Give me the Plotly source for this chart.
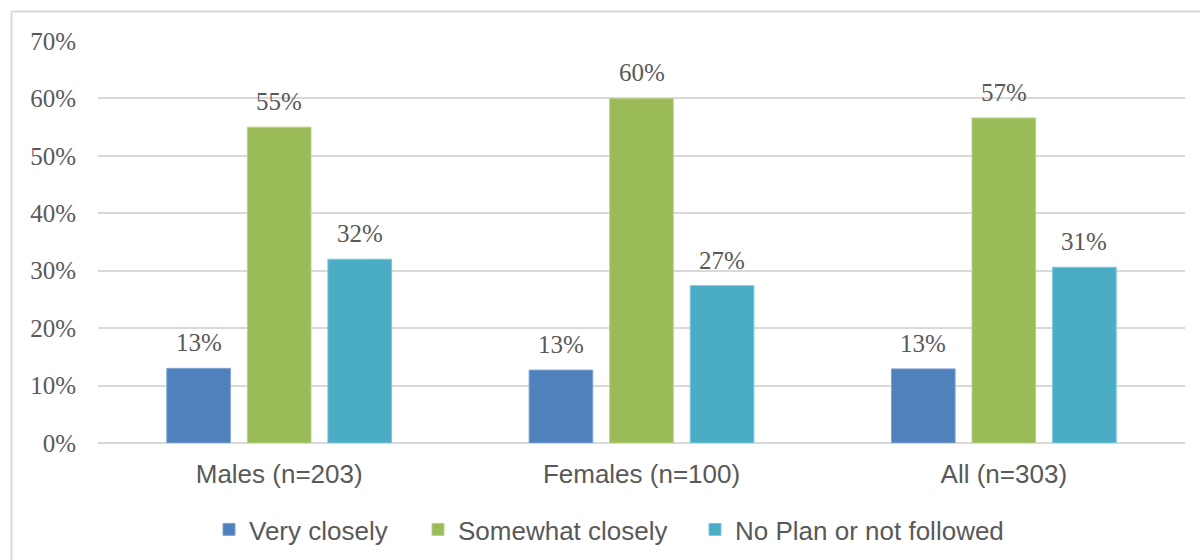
import plotly.graph_objects as go

# Survey groups and the share in each plan-following category
groups = ["Males (n=203)", "Females (n=100)", "All (n=303)"]
series_names = ["Very closely", "Somewhat closely", "No Plan or not followed"]
very_closely = [0.130, 0.127, 0.129]
somewhat_closely = [0.550, 0.600, 0.566]
no_plan = [0.320, 0.274, 0.306]
series_values = [very_closely, somewhat_closely, no_plan]
series_colors = ["#4F81BD", "#9BBB59", "#4BACC6"]
edge_colors = ["#7FA3D3", "#B9D28A", "#7CC8DC"]

y_ticks = [0, 0.1, 0.2, 0.3, 0.4, 0.5, 0.6, 0.7]

text_grey = "#595959"
serif = "Liberation Serif, Times New Roman, serif"
sans = "Liberation Sans, Arial, sans-serif"

# plot-area geometry (pixels) used to place the frame and the legends
W, H = 1200, 560
ML, MR, MT, MB = 98, 15, 41, 117
PW, PH = W - ML - MR, H - MT - MB
slot_px = PW / len(groups) * (1 - 0.333) / len(series_names)


def px_to_paper_x(px):
    return (px - ML) / PW


def px_to_paper_y(py):
    return (H - MB - py) / PH


fig = go.Figure()
legend_ids = ["legend", "legend2", "legend3"]
for name, vals, col, edge, lg in zip(series_names, series_values,
                                     series_colors, edge_colors, legend_ids):
    fig.add_trace(go.Bar(
        x=groups, y=vals, name=name, legend=lg,
        marker=dict(color=col, line=dict(color=edge, width=1)),
    ))

# value labels above each bar
annotations = []
for i, vals in enumerate(series_values):
    for g, v in zip(groups, vals):
        annotations.append(dict(
            x=g, y=v, xref="x", yref="y", text=f"{v:.0%}",
            showarrow=False, xanchor="center", yanchor="bottom",
            xshift=(i - 1) * slot_px, yshift=10,
            font=dict(family=serif, size=25, color=text_grey),
        ))

legend_style = dict(orientation="h", xanchor="left", yanchor="middle",
                    y=px_to_paper_y(529.5), itemwidth=30,
                    font=dict(family=sans, size=26, color=text_grey),
                    bgcolor="rgba(0,0,0,0)")
legend_starts = [209, 418, 695]

fig.update_layout(
    width=W, height=H,
    margin=dict(l=ML, r=MR, t=MT, b=MB, autoexpand=False),
    paper_bgcolor="white", plot_bgcolor="white",
    barmode="group", bargap=0.333, bargroupgap=0.21,
    showlegend=True,
    legend=dict(legend_style, x=px_to_paper_x(legend_starts[0])),
    legend2=dict(legend_style, x=px_to_paper_x(legend_starts[1])),
    legend3=dict(legend_style, x=px_to_paper_x(legend_starts[2])),
    xaxis=dict(showgrid=False, showline=False, ticks="",
               tickfont=dict(family=sans, size=26, color=text_grey),
               ticklabelstandoff=13),
    yaxis=dict(range=[0, 0.7], tickvals=y_ticks, tickformat=".0%",
               showgrid=True, gridcolor="#D9D9D9", gridwidth=2,
               zeroline=True, zerolinecolor="#D9D9D9", zerolinewidth=2,
               showline=False, ticks="",
               tickfont=dict(family=serif, size=25, color=text_grey),
               ticklabelstandoff=21),
    annotations=annotations,
    shapes=[
        # chart frame: left and top edges
        dict(type="line", xref="paper", yref="paper",
             x0=px_to_paper_x(11.5), x1=px_to_paper_x(11.5),
             y0=px_to_paper_y(11.5), y1=px_to_paper_y(570),
             line=dict(color="#D9D9D9", width=2)),
        dict(type="line", xref="paper", yref="paper",
             x0=px_to_paper_x(11.5), x1=px_to_paper_x(1210),
             y0=px_to_paper_y(11.5), y1=px_to_paper_y(11.5),
             line=dict(color="#D9D9D9", width=2)),
    ],
)

fig.write_html("out.html")
